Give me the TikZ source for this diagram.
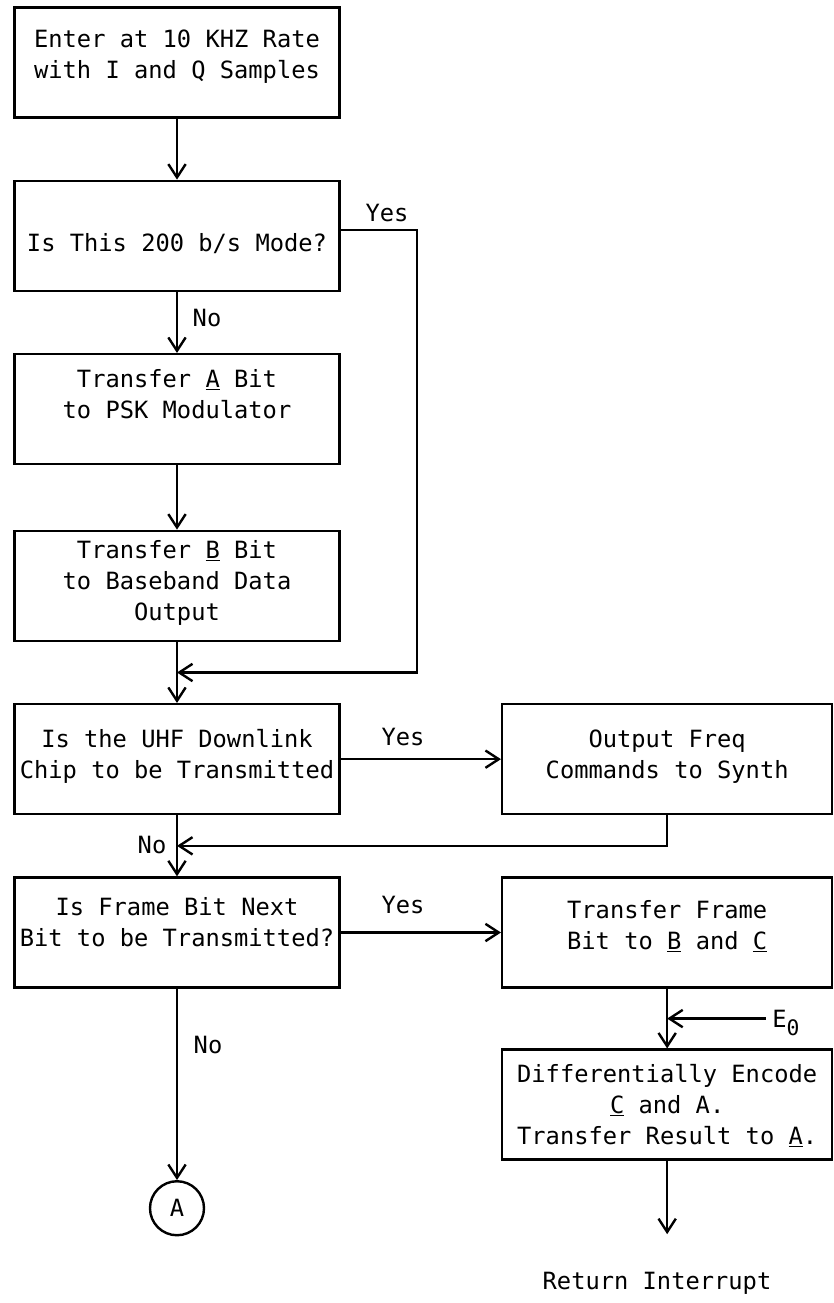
\documentclass[tikz,border=0pt]{standalone}
\usepackage{fontspec}
\setmonofont{DejaVu Sans Mono}
\usepackage{tikz}
\usetikzlibrary{arrows.meta, positioning, calc}

\newcommand{\chartfont}{\ttfamily\fontsize{17.8}{23.25}\selectfont}

\begin{document}
\begin{tikzpicture}[x=0.75pt, y=-0.75pt, line width=1.8pt,
		>={Straight Barb[length=10pt,width=13pt]}]
		\tikzset{node distance=45.7pt and 120.2pt,
			box/.style={rectangle, draw, align=center, inner xsep=0pt,
			minimum width=243.75pt, minimum height=82.5pt, text depth=0pt,
			font=\chartfont},
			wbox/.style={box, minimum width=247.5pt},
			lbl/.style={font=\chartfont, inner sep=2pt},
		}
		\useasboundingbox (0,0) rectangle (833,1303);

		% left column
		\node[box, text depth=12.75pt](enter) at (177,62.5){Enter at 10 KHZ Rate\\with I and Q Samples};
		\node[box, below=of enter, text height=23.5pt](mode){Is This 200 b/s Mode?};
		\node[box, below=of mode, text depth=22.5pt](abit){Transfer \underline{A} Bit\\to PSK Modulator};
		\node[box, below=48.2pt of abit, text depth=7.5pt](bbit){Transfer \underline{B} Bit\\to Baseband Data\\Output};
		\node[box, below=of bbit, text depth=8.25pt](uhf){Is the UHF Downlink\\Chip to be Transmitted};
		\node[box, below=of uhf, text depth=15.75pt](frame){Is Frame Bit Next\\Bit to be Transmitted?};
		\node[circle, draw, minimum size=40.5pt, inner sep=0pt, font=\chartfont,
			below=143.5pt of frame](conA){A};

		% right column
		\node[wbox, right=of uhf, text depth=6.75pt](freq){Output Freq\\Commands to Synth};
		\node[wbox, right=of frame, text depth=12pt](tframe){Transfer Frame\\Bit to \underline{B} and \underline{C}};
		\node[wbox, below=44.8pt of tframe, text depth=1pt](encode){Differentially Encode\\\underline{C} and A.\\Transfer Result to \underline{A}.};

		\coordinate (j1) at ($(bbit.south)!0.5!(uhf.north)$);
		\coordinate (c1) at ([xshift=180pt]j1);
		\coordinate (j2) at ($(uhf.south)!0.5!(frame.north)$);
		\coordinate (j3) at ($(tframe.south)!0.5!(encode.north)$);
		\coordinate[below=55pt of encode](c2);

		% labels
		\node[lbl](yes1) at (387,213){Yes};
		\node[lbl](no1) at (207,318){No};
		\node[lbl](yes2) at (403,737){Yes};
		\node[lbl](no2) at (152,845){No};
		\node[lbl](yes3) at (403,905){Yes};
		\node[lbl](no3) at (208,1045){No};
		\node[lbl, anchor=west, text depth=0pt, inner xsep=4pt](e0) at ([xshift=74pt]j3){E\raisebox{-6pt}{\fontsize{16}{16}\selectfont 0}};
		\node[lbl](ret) at (657,1283){Return Interrupt};

		\draw[->](enter) -- (mode);
		\draw[->](mode) -- (abit);
		\draw[->](abit) -- (bbit);
		\draw[->](bbit) -- (uhf);
		\draw[->]([yshift=4.5pt]mode.east) -| (c1) -- (j1);

		\draw[->](uhf.east) -- (uhf.east -| freq.west);
		\draw[->](freq.south) |- (j2);
		\draw[->](uhf) -- (frame);

		\draw[->](frame.east) -- (frame.east -| tframe.west);
		\draw[->](frame) -- (conA);

		\draw[->](tframe) -- (encode);
		\draw[->](e0.west) -- (j3);
		\draw[->](encode) -- (c2);

	\end{tikzpicture}
\end{document}
